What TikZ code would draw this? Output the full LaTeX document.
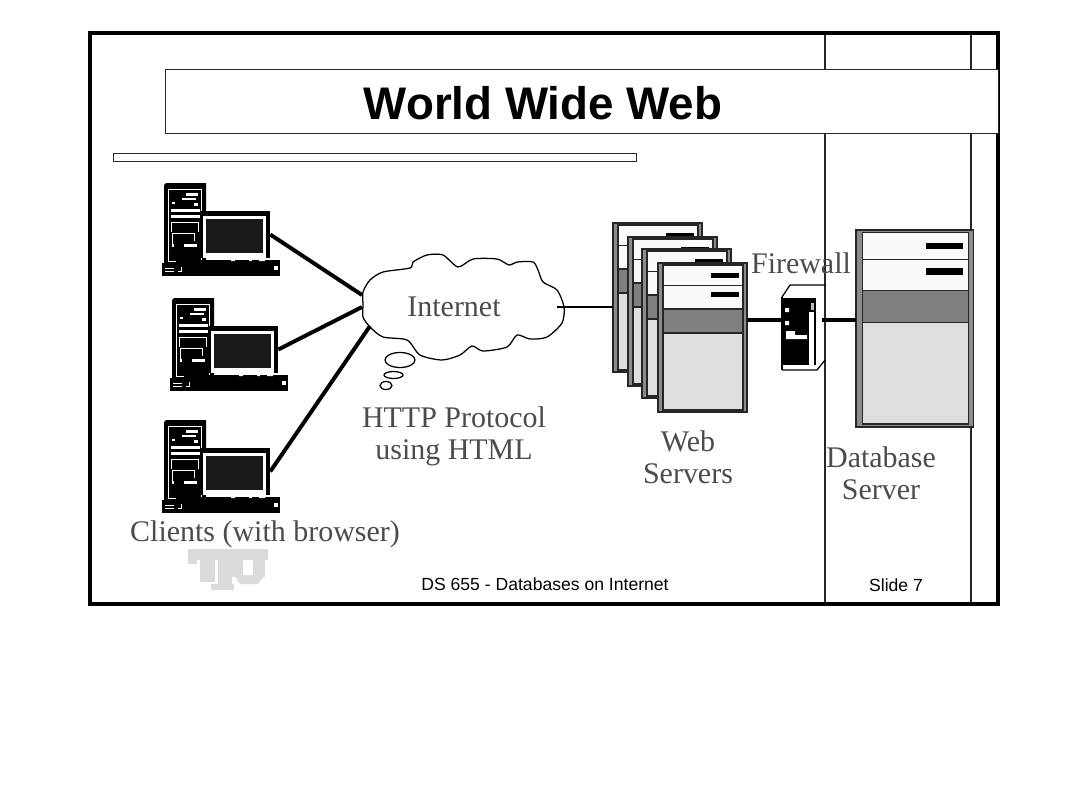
\documentclass[tikz,border=0pt]{standalone}
\usepackage{fontspec}
\setmainfont{Liberation Serif}
\setsansfont{Liberation Sans}
\usepackage{tikz}

\begin{document}
\begin{tikzpicture}[
   x=0.025cm,y=-0.025cm,
   label/.style={font=\fontsize{21.3}{22.8}\selectfont,text=black!70,inner sep=0pt,align=center},
   foot/.style={font=\sffamily\fontsize{12.5}{14}\selectfont,inner sep=0pt},
   frameline/.style={draw=black!85,line width=1.4pt},
   link/.style={line width=2.8pt,black},
   panel/.style={draw=black!85,line width=0.9pt},
   client/.pic={
      \fill[black] (0,2)--(2,0)--(42,0)--(42,80)--(0,80)--cycle;
      \draw[white,line width=0.7pt] (4,6) rectangle (37,78);
      \fill[white] (22,10) rectangle (34,13);
      \fill[white] (18,15) rectangle (32,16.5);
      \fill[white] (8,19) rectangle (11,21);
      \fill[white] (30,20) rectangle (34,23);
      \fill[white] (7,26) rectangle (36,29);
      \fill[white] (7,32) rectangle (36,35);
      \draw[white,line width=0.7pt] (7,49)--(7,39)--(34,39)--(34,49);
      \draw[white,line width=0.7pt] (8,63)--(8,50)--(30,50)--(30,58);
      \fill[white] (20,61) rectangle (33,64);
      \fill[white] (8,61) rectangle (10,64);
      \fill[black] (12,77) rectangle (116,93);
      \fill[black] (-2,80) rectangle (14,93);
      \draw[white,line width=0.7pt] (1,85)--(10,85) (1,88)--(10,88) (14,88)--(17,88)--(17,84);
      \fill[white] (110,83) rectangle (114,87);
      \node[fill=black,inner sep=0pt,minimum width=70*0.711pt,minimum height=47*0.711pt] (-screen) at (71,51.5) {};
      \fill[white] (39,33) rectangle (102,75);
      \fill[black!90] (42,36) rectangle (99,70);
      \fill[white] (67,77) rectangle (71,78) (85,77) rectangle (88,78) (95,77) rectangle (101,78);
   },
   server/.pic={
      \fill[black!45] (0,0) rectangle (89,149);
      \draw[black!85,line width=1.4pt] (0,0) rectangle (89,149);
      \fill[black!2] (5,2) rectangle (85,22);
      \fill[black!2] (5,23) rectangle (85,46);
      \fill[black!50] (5,46) rectangle (85,70);
      \fill[black!13] (5,70) rectangle (85,147);
      \draw[panel] (5,2) rectangle (85,147);
      \draw[panel] (5,22.5)--(85,22.5) (5,46)--(85,46) (5,70)--(85,70);
      \fill[black] (53,10) rectangle (81,14.5);
      \fill[black] (53,29) rectangle (81,34);
      \coordinate (-west) at (0,84);
      \coordinate (-port) at (0,68.2);
      \coordinate (-east) at (89,57);
   }]
\useasboundingbox (0,0) rectangle (1080,810);
\fill[white] (0,0) rectangle (1080,810);
% slide frame
\draw[frameline] (825,33)--(825,604);
\draw[frameline] (971,33)--(971,604);
\draw[black,line width=3pt] (90,33) rectangle (998,604);
\node[draw=black!85,line width=1pt,minimum width=833*0.711pt,minimum height=64*0.711pt,inner sep=0pt,fill=white,anchor=north west] (titlebox) at (165,69) {};
\node[font=\sffamily\bfseries\fontsize{32.5}{36}\selectfont,inner sep=0pt] (title) at (543,103) {World Wide Web};
\node[draw=black!85,line width=1pt,minimum width=523*0.711pt,minimum height=8*0.711pt,inner sep=0pt,anchor=north west] (rulebar) at (113,153) {};
% clients
\pic (cOne) at (164,183) {client};
\pic (cTwo) at (172,298) {client};
\pic (cThree) at (164,420) {client};
% cloud
\coordinate (cloudA) at (362,295);
\coordinate (cloudB) at (362,307);
\coordinate (cloudC) at (370,326);
\coordinate (cloudD) at (557,307);
\draw[line width=0.9pt,black,fill=white] plot[smooth cycle,tension=.45] coordinates {
   (363,292) (370,280) (383,272) (410,268) (413,262) (427,255) (443,255) (458,267)
   (473,259) (497,259) (509,265) (517,262) (533,262) (538,270) (543,282) (557,290)
   (564,307) (562,323) (547,337) (530,339) (517,335) (507,347) (483,351) (472,346)
   (460,355) (442,360) (420,355) (407,340) (383,337) (370,327) (363,317) (363,305)};
\draw[line width=0.9pt] (400,360) ellipse (15 and 7.5);
\draw[line width=0.9pt] (393.5,375) ellipse (9.5 and 3.5);
\draw[line width=0.9pt] (386,385.5) ellipse (6 and 4);
\node[label] (internet) at (454,307) {Internet};
% servers
\pic (sOne) at (613,223) {server};
\pic (sTwo) at (628,237) {server};
\pic (sThree) at (642,249) {server};
\pic (sFour) at (658,263) {server};
\pic[scale=1.32] (dbase) at (856,230) {server};
% firewall
\draw[line width=0.9pt] (782,297)--(790,285)--(825,285) (782,370)--(817,370)--(825,360);
\draw[line width=0.9pt] (782,297)--(782,370);
\node[fill=black,inner sep=0pt,minimum width=34*0.711pt,minimum height=67*0.711pt,anchor=north west] (fwall) at (782,298) {};
\fill[white] (785,308) rectangle (789,312) (785,321) rectangle (789,325);
\fill[white] (786,331)--(795,331)--(795,335)--(807,335)--(807,339)--(786,339)--cycle;
\fill[white] (809,312) rectangle (814,365);
\fill[white] (783,365) rectangle (815,369);
\fill[black!25] (811,303) rectangle (814,310);
% links
\draw[link] (cOne-screen.east) -- (cloudA);
\draw[link] (cTwo-screen.east) -- (cloudB);
\draw[link] (cThree-screen.east) -- (cloudC);
\draw[line width=1.6pt] (cloudD) -- (sOne-west);
\draw[link] (sFour-east) -- (fwall.west |- sFour-east);
\coordinate (fwallport) at (822,320);
\draw[link] (fwallport) -- (dbase-port);
% labels
\node[label] (http) at (454,436) {HTTP Protocol\\using HTML};
\node[label] (web) at (688,457) {Web\\Servers};
\node[label] (fwlabel) at (801,263) {Firewall};
\node[label] (dblabel) at (881,473) {Database\\Server};
\node[label] (clients) at (265,534) {Clients (with browser)};
\node[foot] (course) at (545,584) {DS 655 - Databases on Internet};
\node[foot] (slide) at (896,585) {Slide 7};
% logo
\fill[black!14] (188,549) rectangle (268,560);
\fill[black!14] (188,558) rectangle (197,564);
\fill[black!14] (200,558) rectangle (215,582);
\fill[black!14] (218,555) rectangle (232,590);
\fill[black!14] (211,584) rectangle (234,590);
\fill[black!14] (232,553) rectangle (243,577);
\fill[black!14] (253,553) rectangle (265,577);
\fill[black!14] (234,575)--(265,575)--(258,584)--(240,584)--cycle;
\end{tikzpicture}
\end{document}
